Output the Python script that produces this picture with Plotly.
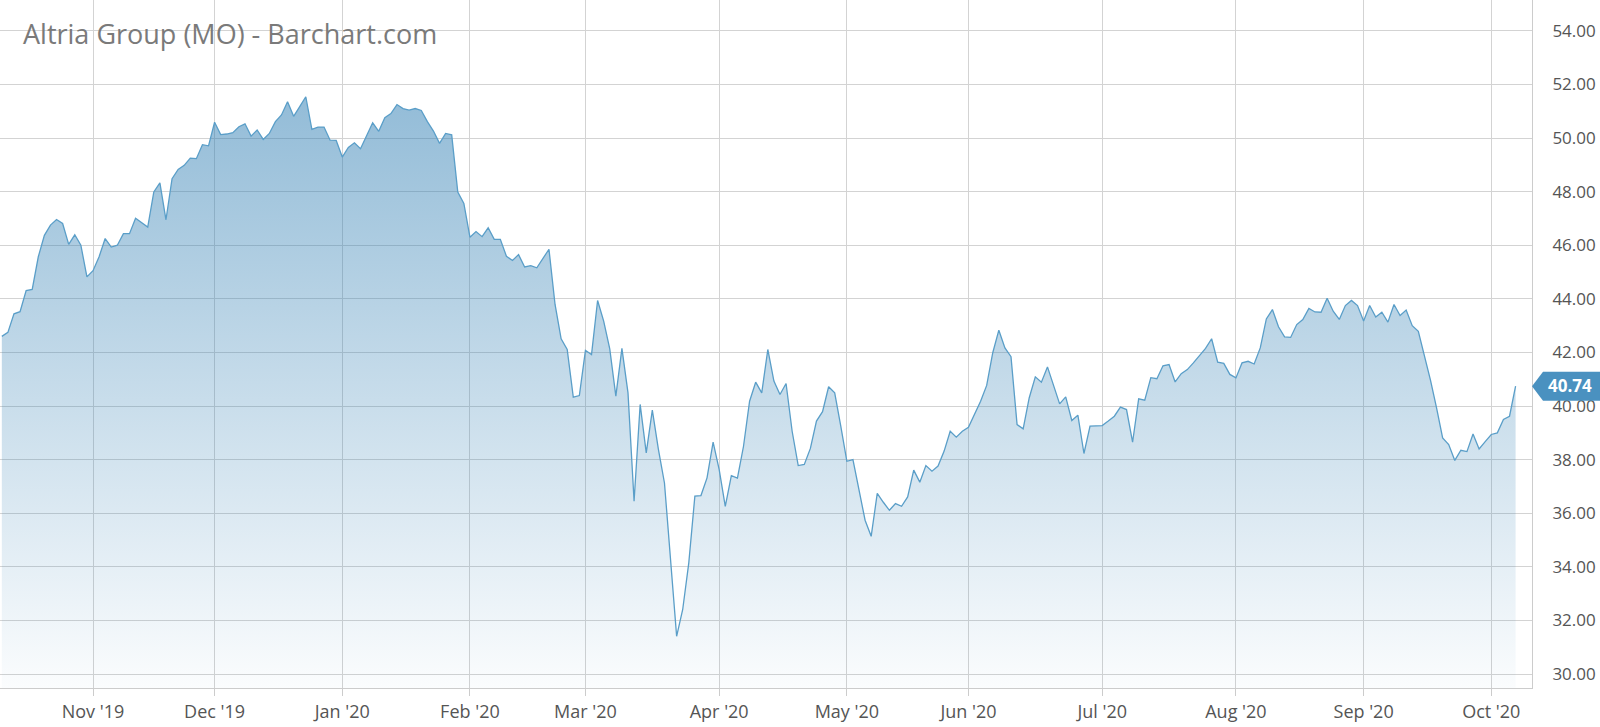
"""
Altria Group (MO) daily close, Oct 2019 - Oct 2020, Barchart style area chart.
"""

import pandas as pd
import plotly.graph_objects as go

# ── Data ─────────────────────────────────────────────────────────────────────
START_DATE = "2019-10-11"
END_DATE = "2020-10-07"
HOLIDAYS = [
    "2019-11-28", "2019-12-25", "2020-01-01", "2020-01-20", "2020-02-17",
    "2020-04-10", "2020-05-25", "2020-07-03", "2020-09-07",
]

# closing prices, one per trading day
CLOSE_2019 = [
    42.60, 42.75, 43.44, 43.52, 44.31, 44.35, 45.57, 46.37, 46.75, 46.96,
    46.81, 46.03, 46.39, 46.00, 44.82, 45.05, 45.57, 46.25, 45.93, 46.00,
    46.43, 46.43, 47.01, 46.85, 46.68, 47.99, 48.33, 46.95, 48.48, 48.83,
    48.98, 49.25, 49.23, 49.75, 49.71, 50.59, 50.13, 50.15, 50.20, 50.42,
    50.53, 50.07, 50.30, 49.95, 50.17, 50.61, 50.86, 51.35, 50.81, 51.17,
    51.54, 50.32, 50.41, 50.41, 49.92, 49.91,
]
CLOSE_Q1_2020 = [
    49.29, 49.65, 49.82, 49.60, 50.07, 50.57, 50.25, 50.76, 50.91, 51.25,
    51.10, 51.04, 51.10, 51.03, 50.61, 50.26, 49.80, 50.17, 50.12, 47.98,
    47.56, 46.30, 46.51, 46.32, 46.65, 46.22, 46.22, 45.59, 45.43, 45.65,
    45.19, 45.24, 45.16, 45.53, 45.85, 43.79, 42.51, 42.11, 40.33, 40.39,
    42.08, 41.92, 43.94, 43.17, 42.13, 40.37, 42.15, 40.49, 36.45, 40.06,
    38.25, 39.85, 38.38, 37.13, 34.40, 31.41, 32.41, 34.15, 36.64, 36.66,
    37.32, 38.65,
]
CLOSE_Q2_2020 = [
    37.63, 36.26, 37.40, 37.31, 38.50, 40.18, 40.89, 40.49, 42.11, 40.93,
    40.43, 40.84, 39.06, 37.78, 37.82, 38.42, 39.44, 39.79, 40.72, 40.49,
    39.25, 37.94, 38.00, 36.82, 35.74, 35.14, 36.74, 36.41, 36.11, 36.36,
    36.26, 36.61, 37.61, 37.16, 37.78, 37.57, 37.76, 38.32, 39.06, 38.84,
    39.06, 39.21, 39.68, 40.18, 40.77, 41.99, 42.83, 42.17, 41.84, 39.31,
    39.15, 40.31, 41.09, 40.89, 41.46, 40.74, 40.08, 40.34, 39.46, 39.66,
    38.23, 39.25, 39.26,
]
CLOSE_Q3_2020 = [
    39.27, 39.44, 39.62, 39.96, 39.87, 38.65, 40.27, 40.22, 41.06, 41.02,
    41.50, 41.55, 40.90, 41.21, 41.36, 41.61, 41.89, 42.15, 42.51, 41.64,
    41.59, 41.18, 41.05, 41.61, 41.67, 41.57, 42.17, 43.25, 43.60, 42.96,
    42.58, 42.56, 43.04, 43.23, 43.64, 43.51, 43.50, 44.02, 43.54, 43.23,
    43.75, 43.94, 43.75, 43.17, 43.75, 43.32, 43.50, 43.13, 43.79, 43.38,
    43.58, 43.00, 42.79, 41.89, 40.97, 39.93, 38.81, 38.56, 37.97, 38.35,
    38.30, 38.96, 38.40, 38.67, 38.94, 39.00, 39.50, 39.62, 40.74,
]

Y_RANGE = [29.48, 55.15]

# ── Styling ──────────────────────────────────────────────────────────────────
FONT = "Open Sans, Noto Sans, sans-serif"
LINE_COLOR = "#5a9ec8"
GRID_COLOR = "#d3d3d3"
AXIS_COLOR = "#cccccc"
TAG_COLOR = "#4a91c0"
TEXT_COLOR = "#555555"

closes = CLOSE_2019 + CLOSE_Q1_2020 + CLOSE_Q2_2020 + CLOSE_Q3_2020
dates = pd.bdate_range(START_DATE, END_DATE, freq="C", holidays=HOLIDAYS)
dates = list(dates[: len(closes)])
labels = [d.strftime("%Y-%m-%d") for d in dates]

# gridlines / ticks on the first trading day of each month
tick_vals, tick_text = [], []
for prev, cur in zip([None] + dates[:-1], dates):
    if prev is not None and cur.month != prev.month:
        tick_vals.append(cur.strftime("%Y-%m-%d"))
        tick_text.append(cur.strftime("%b '%y"))

fig = go.Figure()
fig.add_trace(go.Scatter(
    x=labels, y=closes,
    mode="lines",
    line=dict(color=LINE_COLOR, width=1.3),
    fill="tozeroy",
    fillgradient=dict(
        type="vertical",
        start=Y_RANGE[0],
        stop=max(closes),
        colorscale=[[0, "rgba(47,126,179,0.02)"], [1, "rgba(47,126,179,0.52)"]],
    ),
    hoverinfo="x+y",
    showlegend=False,
))

last = closes[-1]
# price tag on the right axis
fig.add_shape(
    type="path", xref="paper", yref="y",
    xsizemode="pixel", ysizemode="pixel",
    xanchor=1, yanchor=last,
    path="M0,0 L11,14.5 L70,14.5 L70,-14.5 L11,-14.5 Z",
    fillcolor=TAG_COLOR, line=dict(width=0), layer="above",
)
fig.add_annotation(
    text=f"<b>{last:.2f}</b>", xref="paper", yref="y",
    x=1, y=last, xanchor="center", yanchor="middle", xshift=38, yshift=1,
    borderpad=0,
    showarrow=False, font=dict(color="white", size=17, family=FONT),
)

fig.add_annotation(
    text="Altria Group (MO) - Barchart.com",
    xref="paper", yref="paper", x=0, y=1, xshift=21, yshift=-33,
    xanchor="left", yanchor="middle", showarrow=False,
    font=dict(color="#7a7a7a", size=27, family=FONT),
)

fig.update_layout(
    width=1600, height=727,
    paper_bgcolor="white", plot_bgcolor="white",
    margin=dict(l=0, r=68, t=0, b=39),
    font=dict(family=FONT, color=TEXT_COLOR, size=16),
    xaxis=dict(
        type="category",
        categoryorder="array", categoryarray=labels,
        range=[-0.3, len(closes) + 1.7],
        tickmode="array", tickvals=tick_vals, ticktext=tick_text,
        showgrid=True, gridcolor=GRID_COLOR, gridwidth=1,
        ticks="outside", ticklen=7, tickcolor=AXIS_COLOR,
        showline=True, linecolor=AXIS_COLOR, linewidth=1,
        tickfont=dict(size=18, color=TEXT_COLOR),
        zeroline=False,
    ),
    yaxis=dict(
        side="right", range=Y_RANGE,
        tick0=30, dtick=2, tickformat=".2f",
        showgrid=True, gridcolor=GRID_COLOR, gridwidth=1,
        showline=True, linecolor=AXIS_COLOR, linewidth=1,
        ticks="", ticklabelstandoff=16,
        tickfont=dict(size=17, color=TEXT_COLOR),
        zeroline=False,
    ),
)

# drop the default page margin so the figure sits at the window origin
fig.write_html(
    "out.html",
    config={"displayModeBar": False},
    post_script="document.body.style.margin='0';document.body.style.overflow='hidden';",
)
